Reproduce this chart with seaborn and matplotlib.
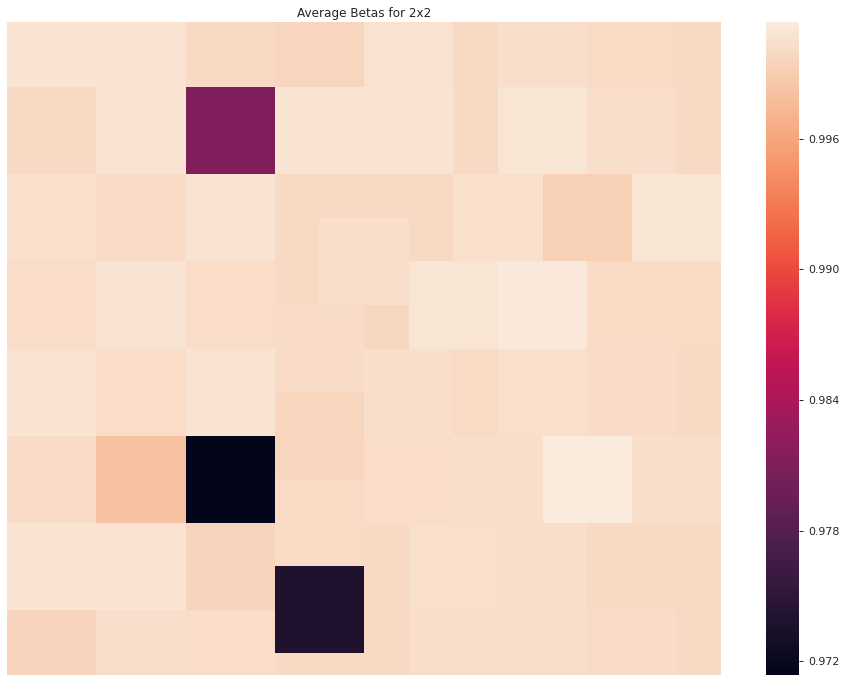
import numpy as np
import seaborn as sns
import matplotlib
matplotlib.use("Agg")
import matplotlib.pyplot as plt

sns.set_theme(style="white", context="notebook")

title = "Average Betas for 2x2"

# average beta per 2x2 window, 16 x 16 grid
row_00 = [1.00068, 1.00068, 1.00068, 1.00068, 0.99993, 0.99993, 0.99970, 0.99970,
          1.00061, 1.00061, 0.99993, 1.00031, 1.00031, 1.00000, 1.00000, 0.99985]
row_01 = row_00
row_02 = [0.99993, 0.99993, 1.00068, 1.00068, 0.98103, 0.98103, 1.00068, 1.00068,
          1.00068, 1.00068, 0.99993, 1.00083, 1.00083, 1.00039, 1.00039, 0.99993]
row_03 = row_02
row_04 = [1.00050, 1.00050, 1.00008, 1.00008, 1.00075, 1.00075, 0.99985, 0.99985,
          0.99985, 0.99985, 1.00053, 1.00053, 0.99913, 0.99913, 1.00083, 1.00083]
row_05 = [1.00050, 1.00050, 1.00008, 1.00008, 1.00075, 1.00075, 0.99985, 1.00031,
          1.00031, 0.99985, 1.00053, 1.00053, 0.99913, 0.99913, 1.00083, 1.00083]
row_06 = [1.00027, 1.00027, 1.00068, 1.00068, 1.00023, 1.00023, 0.99985, 1.00031,
          1.00031, 1.00083, 1.00083, 1.00113, 1.00113, 1.00000, 1.00000, 1.00000]
row_07 = [1.00027, 1.00027, 1.00068, 1.00068, 1.00023, 1.00023, 1.00008, 1.00008,
          0.99978, 1.00083, 1.00083, 1.00113, 1.00113, 1.00000, 1.00000, 1.00000]
row_08 = [1.00068, 1.00068, 1.00023, 1.00023, 1.00068, 1.00068, 1.00008, 1.00008,
          1.00031, 1.00031, 1.00000, 1.00046, 1.00046, 1.00008, 1.00008, 0.99993]
row_09 = [1.00068, 1.00068, 1.00023, 1.00023, 1.00068, 1.00068, 0.99963, 0.99963,
          1.00031, 1.00031, 1.00000, 1.00046, 1.00046, 1.00008, 1.00008, 0.99993]
row_10 = [1.00016, 1.00016, 0.99817, 0.99817, 0.97137, 0.97137, 0.99963, 0.99963,
          1.00023, 1.00023, 1.00039, 1.00039, 1.00135, 1.00135, 1.00039, 1.00039]
row_11 = [1.00016, 1.00016, 0.99817, 0.99817, 0.97137, 0.97137, 1.00000, 1.00000,
          1.00023, 1.00023, 1.00039, 1.00039, 1.00135, 1.00135, 1.00039, 1.00039]
row_12 = [1.00068, 1.00068, 1.00068, 1.00068, 0.99948, 0.99948, 1.00000, 1.00000,
          0.99993, 1.00053, 1.00053, 1.00031, 1.00031, 0.99993, 0.99993, 0.99993]
row_13 = [1.00068, 1.00068, 1.00068, 1.00068, 0.99948, 0.99948, 0.97389, 0.97389,
          0.99993, 1.00053, 1.00053, 1.00031, 1.00031, 0.99993, 0.99993, 0.99993]
row_14 = [0.99948, 0.99948, 1.00031, 1.00031, 1.00023, 1.00023, 0.97389, 0.97389,
          0.99993, 1.00031, 1.00031, 1.00031, 1.00031, 1.00016, 1.00016, 0.99993]
row_15 = [0.99948, 0.99948, 1.00031, 1.00031, 1.00023, 1.00023, 0.99993, 0.99993,
          0.99993, 1.00031, 1.00031, 1.00031, 1.00031, 1.00016, 1.00016, 0.99993]

cbar_ticks = [0.972, 0.978, 0.984, 0.990, 0.996]

betas = np.array([row_00, row_01, row_02, row_03, row_04, row_05, row_06, row_07,
                  row_08, row_09, row_10, row_11, row_12, row_13, row_14, row_15])

fig = plt.figure(figsize=(846 / 72, 682 / 72), dpi=72)
ax = fig.add_axes([7 / 846, 7 / 682, 714 / 846, 653 / 682])
cax = fig.add_axes([766 / 846, 7 / 682, 33 / 846, 653 / 682])

sns.heatmap(betas, ax=ax, cbar_ax=cax, xticklabels=False, yticklabels=False,
            cbar_kws={"ticks": cbar_ticks})
# top and bottom rows show only half, as in the original render
ax.set_ylim(15.5, 0.5)
ax.set_title(title, fontsize=12, color="0.15", pad=5)

cax.tick_params(length=4, width=1, pad=5, labelsize=11, colors="0.15")
cax.yaxis.set_major_formatter(matplotlib.ticker.FormatStrFormatter("%.3f"))

fig.savefig("out.png", dpi=72)
